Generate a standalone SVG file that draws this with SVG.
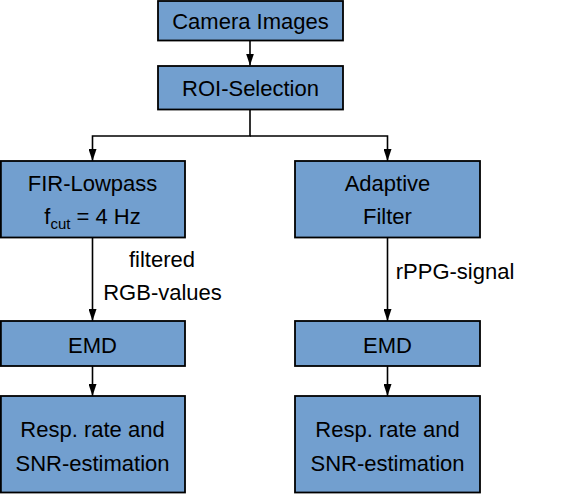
<svg xmlns="http://www.w3.org/2000/svg" width="580" height="497" viewBox="0 0 580 497">
<defs>
<style>
.box{fill:#729fcf;stroke:#000;stroke-width:1.8}
.t{font-family:"Liberation Sans",Arial,sans-serif;font-size:22px;fill:#000;text-anchor:middle}
.c{fill:none;stroke:#000;stroke-width:1.6}
</style>
<marker id="ah" viewBox="0 0 12 8" refX="12" refY="4" markerWidth="12" markerHeight="8" markerUnits="userSpaceOnUse" orient="auto">
<path d="M0,0 L12,4 L0,8 Z" fill="#000"/>
</marker>
</defs>
<g id="connectors">
<line class="c" x1="250" y1="40.5" x2="250" y2="65.5" marker-end="url(#ah)"/>
<polyline class="c" points="250,109.5 250,136 92.5,136 92.5,161" marker-end="url(#ah)"/>
<polyline class="c" points="250,136 387.5,136 387.5,161" marker-end="url(#ah)"/>
<line class="c" x1="92.5" y1="237.5" x2="92.5" y2="321" marker-end="url(#ah)"/>
<line class="c" x1="387.5" y1="237.5" x2="387.5" y2="321" marker-end="url(#ah)"/>
<line class="c" x1="92.5" y1="366" x2="92.5" y2="396" marker-end="url(#ah)"/>
<line class="c" x1="387.5" y1="366" x2="387.5" y2="396" marker-end="url(#ah)"/>
<text class="t" x="162" y="267">filtered</text>
<text class="t" x="162.5" y="300">RGB-values</text>
<text class="t" x="455" y="279">rPPG-signal</text>
</g>
<g id="camera">
<rect class="box" x="158" y="1" width="185" height="39.5"/>
<text class="t" x="250.5" y="28.5">Camera Images</text>
</g>
<g id="roi">
<rect class="box" x="158" y="66" width="185" height="43.5"/>
<text class="t" x="250.5" y="96">ROI-Selection</text>
</g>
<g id="fir">
<rect class="box" x="0.9" y="161" width="184.1" height="76.5"/>
<text class="t" x="92.5" y="191">FIR-Lowpass</text>
<text class="t" x="92.5" y="224">f<tspan font-size="15" dy="5">cut</tspan><tspan dy="-5"> = 4 Hz</tspan></text>
</g>
<g id="adaptive">
<rect class="box" x="295" y="161" width="185" height="76.5"/>
<text class="t" x="387.5" y="191">Adaptive</text>
<text class="t" x="387.5" y="224">Filter</text>
</g>
<g id="emd1">
<rect class="box" x="0.9" y="321" width="184.1" height="45"/>
<text class="t" x="92.5" y="352.5">EMD</text>
</g>
<g id="emd2">
<rect class="box" x="295" y="321" width="185" height="45"/>
<text class="t" x="387.5" y="352.5">EMD</text>
</g>
<g id="resp1">
<rect class="box" x="0.9" y="396" width="184.1" height="96.5"/>
<text class="t" x="92.5" y="437">Resp. rate and</text>
<text class="t" x="92.5" y="471">SNR-estimation</text>
</g>
<g id="resp2">
<rect class="box" x="295" y="396" width="185" height="96.5"/>
<text class="t" x="387.5" y="437">Resp. rate and</text>
<text class="t" x="387.5" y="471">SNR-estimation</text>
</g>
</svg>
